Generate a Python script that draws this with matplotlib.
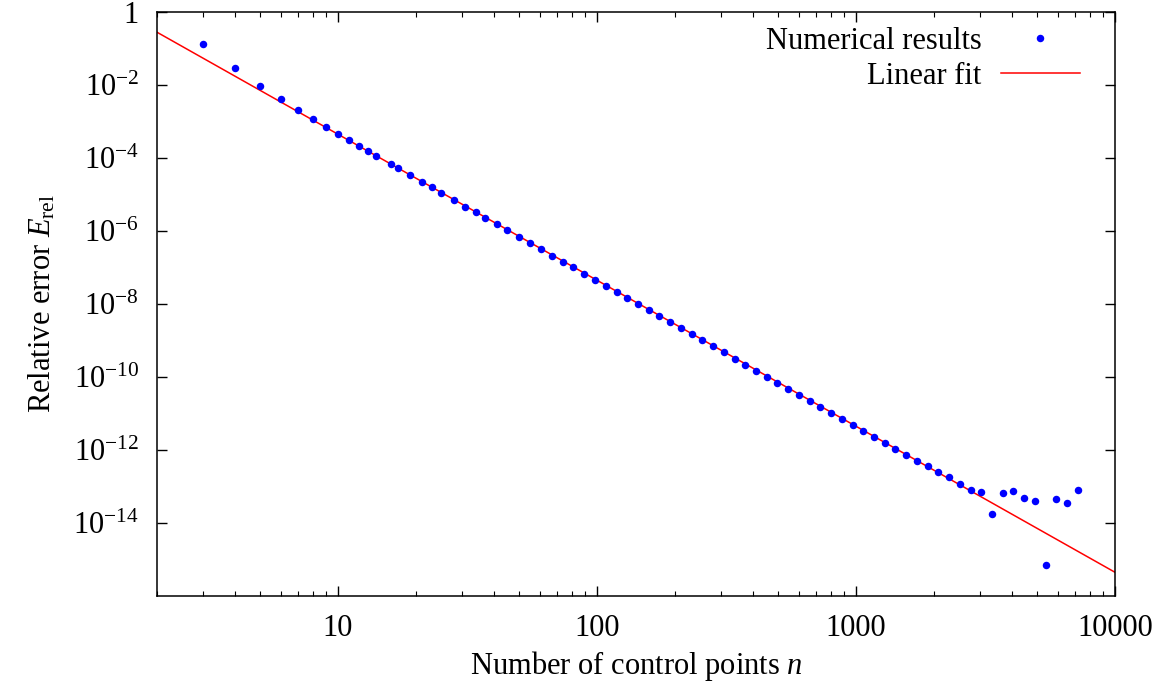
import numpy as np
import matplotlib
matplotlib.use('Agg')
import matplotlib.pyplot as plt
from matplotlib.ticker import FixedLocator, LogLocator, NullFormatter

plt.rcParams['font.family'] = ['Liberation Serif', 'DejaVu Serif']
plt.rcParams['mathtext.fontset'] = 'custom'
plt.rcParams['mathtext.rm'] = 'Liberation Serif'
plt.rcParams['mathtext.it'] = 'Liberation Serif:italic'
plt.rcParams['font.size'] = 22

# number of control points
n_points = [3, 4, 5, 6, 7, 8, 9, 10, 11, 12, 13, 14, 16, 17, 19, 21, 23, 25, 28, 31,
            34, 37, 41, 45, 50, 55, 61, 67, 74, 81, 89, 98, 108, 119, 131, 144, 158,
            174, 191, 211, 232, 255, 281, 309, 340, 374, 411, 452, 497, 547, 602, 662,
            728, 801, 881, 970, 1067, 1173, 1291, 1420, 1562, 1718, 1890, 2079, 2287,
            2516, 2768, 3044, 3349, 3684, 4052, 4457, 4903, 5394, 5933, 6526, 7179]

# log10 of relative error
err_log10 = [-0.885, -1.542, -2.019, -2.375, -2.677, -2.923, -3.145, -3.334, -3.499,
             -3.663, -3.808, -3.937, -4.170, -4.270, -4.466, -4.648, -4.804, -4.959,
             -5.160, -5.333, -5.489, -5.644, -5.817, -5.982, -6.164, -6.320, -6.502,
             -6.676, -6.845, -6.995, -7.169, -7.334, -7.499, -7.671, -7.845, -8.000,
             -8.164, -8.329, -8.493, -8.666, -8.830, -8.995, -9.159, -9.323, -9.493,
             -9.663, -9.827, -9.992, -10.156, -10.321, -10.485, -10.649, -10.822,
             -10.986, -11.151, -11.324, -11.479, -11.652, -11.816, -11.981, -12.145,
             -12.293, -12.447, -12.595, -12.740, -12.923, -13.088, -13.159, -13.753,
             -13.170, -13.123, -13.323, -13.405, -15.159, -13.334, -13.444, -13.096]

# linear fit in log-log: log10(E) = fit_intercept + fit_slope * log10(n)
fit_slope = -4.0
fit_intercept = 0.65
fit_n = [2, 10000]

x_ticks = [10, 100, 1000, 10000]
x_tick_labels = ['10', '100', '1000', '10000']
y_ticks = [1e-14, 1e-12, 1e-10, 1e-8, 1e-6, 1e-4, 1e-2, 1]
y_tick_labels = [r'$10^{-14}$', r'$10^{-12}$', r'$10^{-10}$', r'$10^{-8}$',
                 r'$10^{-6}$', r'$10^{-4}$', r'$10^{-2}$', '1']

fig = plt.figure(figsize=(11.58, 6.9), dpi=100)
ax = fig.add_axes([0.1356, 0.1362, 0.9629 - 0.1356, 0.9826 - 0.1362])

err = 10.0 ** np.array(err_log10)
fit_err = 10.0 ** (fit_intercept + fit_slope * np.log10(fit_n))

ax.plot(n_points, err, 'o', color='#0000ff', markersize=5.4, markeredgewidth=0,
        label='Numerical results', zorder=3)
ax.plot(fit_n, fit_err, '-', color='#ff0000', linewidth=1.1, label='Linear fit', zorder=2)

ax.set_xscale('log')
ax.set_yscale('log')
ax.set_xlim(2, 10000)
ax.set_ylim(1e-16, 1)

ax.xaxis.set_major_locator(FixedLocator(x_ticks))
ax.set_xticklabels(x_tick_labels)
ax.xaxis.set_minor_locator(LogLocator(base=10, subs=np.arange(2, 10)))
ax.xaxis.set_minor_formatter(NullFormatter())
ax.yaxis.set_major_locator(FixedLocator(y_ticks))
ax.set_yticklabels(y_tick_labels)
ax.yaxis.set_minor_locator(FixedLocator([]))

ax.tick_params(which='both', direction='in', top=True, right=True, labelsize=22)
ax.tick_params(which='major', length=7, width=1.0, pad=13)
ax.tick_params(which='minor', length=3.5, width=0.8)
for s in ax.spines.values():
    s.set_linewidth(1.1)

ax.set_xlabel(r'Number of control points $n$', labelpad=4)
ax.set_ylabel(r'Relative error $E_\mathrm{rel}$', labelpad=11)

ax.legend(loc='upper right', bbox_to_anchor=(0.9635, 0.975), frameon=False,
          markerfirst=False, handlelength=2.6, handletextpad=0.62,
          labelspacing=0.2, borderaxespad=0, borderpad=0, numpoints=1)

fig.savefig('out.png', dpi=100)
